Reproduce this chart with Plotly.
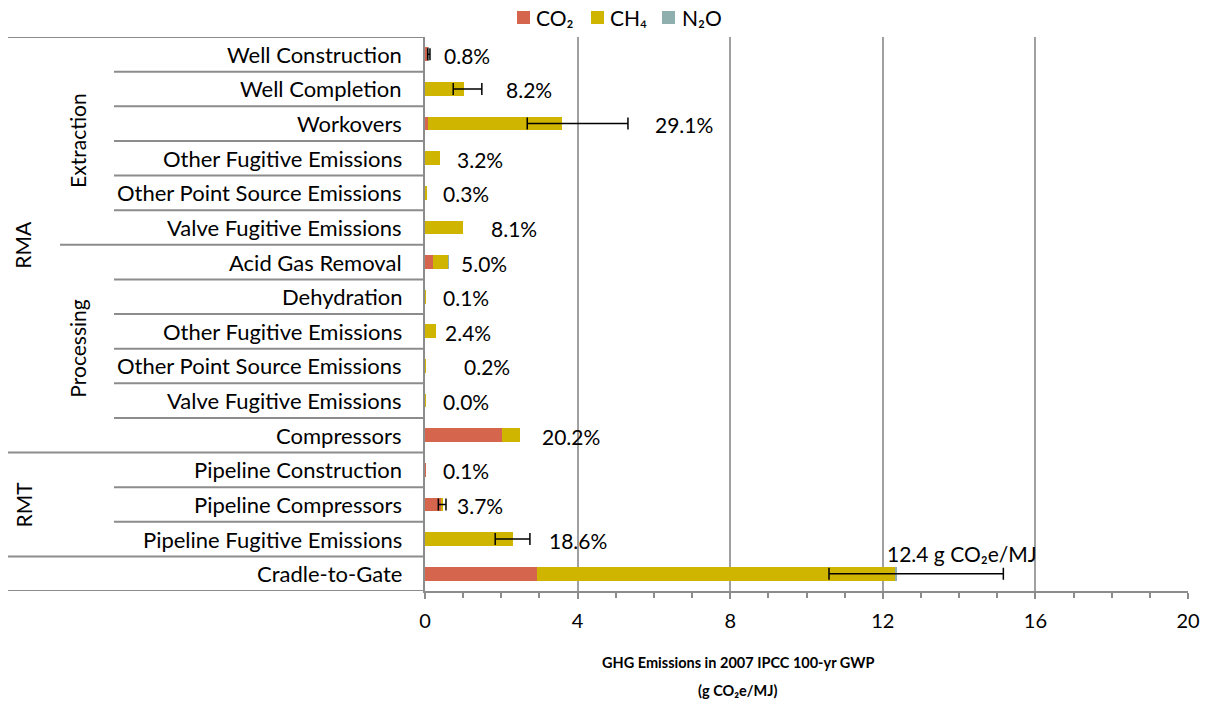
import plotly.graph_objects as go

# ---------------- data ----------------
categories = [
    "Well Construction", "Well Completion", "Workovers", "Other Fugitive Emissions",
    "Other Point Source Emissions", "Valve Fugitive Emissions",
    "Acid Gas Removal", "Dehydration", "Other Fugitive Emissions",
    "Other Point Source Emissions", "Valve Fugitive Emissions", "Compressors",
    "Pipeline Construction", "Pipeline Compressors", "Pipeline Fugitive Emissions",
    "Cradle-to-Gate",
]
co2 = [0.09, 0.01, 0.07, 0.0, 0.0, 0.0, 0.22, 0.006, 0.0, 0.0, 0.0, 2.02, 0.012, 0.44, 0.005, 2.94]
ch4 = [0.005, 1.00, 3.52, 0.395, 0.037, 1.00, 0.40, 0.006, 0.30, 0.025, 0.003, 0.47, 0.0, 0.017, 2.30, 9.40]
n2o = [0.003, 0.0, 0.0, 0.0, 0.0, 0.0, 0.005, 0.0, 0.0, 0.0, 0.0, 0.0, 0.0, 0.0, 0.0, 0.01]
share_labels = ["0.8%", "8.2%", "29.1%", "3.2%", "0.3%", "8.1%", "5.0%", "0.1%", "2.4%",
                "0.2%", "0.0%", "20.2%", "0.1%", "3.7%", "18.6%"]
total_label = "12.4 g CO\u2082e/MJ"
# error bars (rows with uncertainty ranges): row index, low, high
err_rows = [0, 1, 2, 13, 14, 15]
err_low = [0.07, 0.74, 2.68, 0.35, 1.84, 10.59]
err_high = [0.13, 1.49, 5.32, 0.55, 2.75, 15.16]
groups = [("Extraction", 0, 5), ("Processing", 6, 11)]
top_groups = [("RMA", 0, 11), ("RMT", 12, 14)]
x_ticks = [0, 4, 8, 12, 16, 20]
series_names = ["CO\u2082", "CH\u2084", "N\u2082O"]
colors = ["#D5654C", "#CFB500", "#8FAEAE"]
axis_title_lines = ["GHG Emissions in 2007 IPCC 100-yr GWP", "(g CO\u2082e/MJ)"]

# label start positions (layout, in axis units)
label_pos = [0.44, 2.07, 5.98, 0.79, 0.41, 1.68, 0.89, 0.42, 0.47, 0.97, 0.42, 3.01, 0.42, 0.79, 3.19]

# ---------------- layout constants ----------------
W, H = 1207, 702
PL, PR, PT, PB = 425, 1188, 37, 591   # plot area on screen
L, R, T, B = PL, W - PR, PT, H - PB
PW, PH = PR - PL, PB - PT
FONT = "Lato, Carlito, Calibri, sans-serif"
LINE = "#8C8C8C"

def px_x(px):
    return (px - PL) / PW

def px_y(py):
    return (PB - py) / PH

rows = list(range(len(categories)))
totals = [a + b + c for a, b, c in zip(co2, ch4, n2o)]

fig = go.Figure()
for name, vals, col in zip(series_names, [co2, ch4, n2o], colors):
    fig.add_trace(go.Bar(
        y=rows, x=vals, orientation="h", name=name, width=0.4,
        marker=dict(color=col, line=dict(width=0)), showlegend=False,
        hoverinfo="x+name",
    ))

# error bars around totals
ex = [totals[i] for i in err_rows]
fig.add_trace(go.Scatter(
    x=ex, y=err_rows, mode="markers", marker=dict(size=1, opacity=0),
    showlegend=False, hoverinfo="skip",
    error_x=dict(type="data", symmetric=False,
                 array=[h - t for h, t in zip(err_high, ex)],
                 arrayminus=[t - l for l, t in zip(err_low, ex)],
                 color="black", thickness=1.5, width=6),
))

annotations = []
shapes = []

# category labels
for i, c in enumerate(categories):
    annotations.append(dict(x=px_x(404), xref="paper", y=i, yref="y", text=c,
                            xanchor="right", yanchor="middle", showarrow=False,
                            font=dict(family=FONT, size=22, color="black")))

# percent labels
for i, t in enumerate(share_labels):
    annotations.append(dict(x=label_pos[i], xref="x", y=i, yref="y", text=t,
                            xanchor="left", yanchor="middle", showarrow=False, yshift=-1,
                            font=dict(family=FONT, size=21, color="black")))
annotations.append(dict(x=12.06, xref="x", y=14.42, yref="y", text=total_label,
                        xanchor="left", yanchor="middle", showarrow=False,
                        font=dict(family=FONT, size=21, color="black")))

# group labels
for name, a, b in groups:
    annotations.append(dict(x=px_x(78), xref="paper", y=(a + b) / 2, yref="y", text=name,
                            textangle=-90, xanchor="center", yanchor="middle", showarrow=False,
                            font=dict(family=FONT, size=21, color="black")))
for name, a, b in top_groups:
    annotations.append(dict(x=px_x(23), xref="paper", y=(a + b) / 2, yref="y", text=name,
                            textangle=-90, xanchor="center", yanchor="middle", showarrow=False,
                            font=dict(family=FONT, size=21, color="black")))

# separator lines in the category area
n = len(categories)
for k in range(n + 1):
    yb = k - 0.5
    if k in (0, 12, 15, 16):
        x0 = 8
    elif k == 6:
        x0 = 60
    else:
        x0 = 114
    shapes.append(dict(type="line", xref="paper", yref="y", x0=px_x(x0), x1=0,
                       y0=yb, y1=yb, line=dict(color=LINE, width=2)))

# manual legend
leg_items = [(517, 534), (591, 608), (662, 680)]
for (sx, tx), name, col in zip(leg_items, series_names, colors):
    shapes.append(dict(type="rect", xref="paper", yref="paper",
                       x0=px_x(sx), x1=px_x(sx + 13), y0=px_y(24), y1=px_y(11),
                       fillcolor=col, line=dict(width=0)))
    annotations.append(dict(x=px_x(tx), xref="paper", y=px_y(18), yref="paper", text=name,
                            xanchor="left", yanchor="middle", showarrow=False,
                            font=dict(family=FONT, size=21, color="black")))

# axis title (two lines)
for line_text, py in zip(axis_title_lines, [662, 690]):
    annotations.append(dict(x=px_x(738), xref="paper", y=px_y(py), yref="paper",
                            text="<b>" + line_text + "</b>",
                            xanchor="center", yanchor="middle", showarrow=False,
                            font=dict(family=FONT, size=14.5, color="black")))

fig.update_layout(
    width=W, height=H, autosize=False,
    margin=dict(l=L, r=R, t=T, b=B, pad=0, autoexpand=False),
    barmode="stack",
    plot_bgcolor="white", paper_bgcolor="white",
    annotations=annotations, shapes=shapes,
    showlegend=False,
    font=dict(family=FONT, size=20, color="black"),
)
fig.update_xaxes(
    range=[0, 20], tickvals=x_ticks, ticktext=[str(v) for v in x_ticks],
    showgrid=True, gridcolor="#A0A0A0", gridwidth=2, zeroline=False,
    showline=True, linecolor=LINE, linewidth=2,
    ticks="outside", ticklen=6, tickcolor=LINE, tickwidth=1.5,
    minor=dict(dtick=1, ticks="outside", ticklen=5, tickcolor=LINE, tickwidth=1.5, showgrid=False),
    tickfont=dict(family=FONT, size=20, color="black"),
    ticklabelstandoff=5, automargin=False,
)
fig.update_yaxes(
    range=[n - 0.5, -0.5], showticklabels=False, showgrid=False, zeroline=False,
    showline=True, linecolor=LINE, linewidth=2, ticks="", automargin=False,
)

fig.write_html("out.html", config={"displayModeBar": False},
               post_script="document.body.style.margin='0px';")
